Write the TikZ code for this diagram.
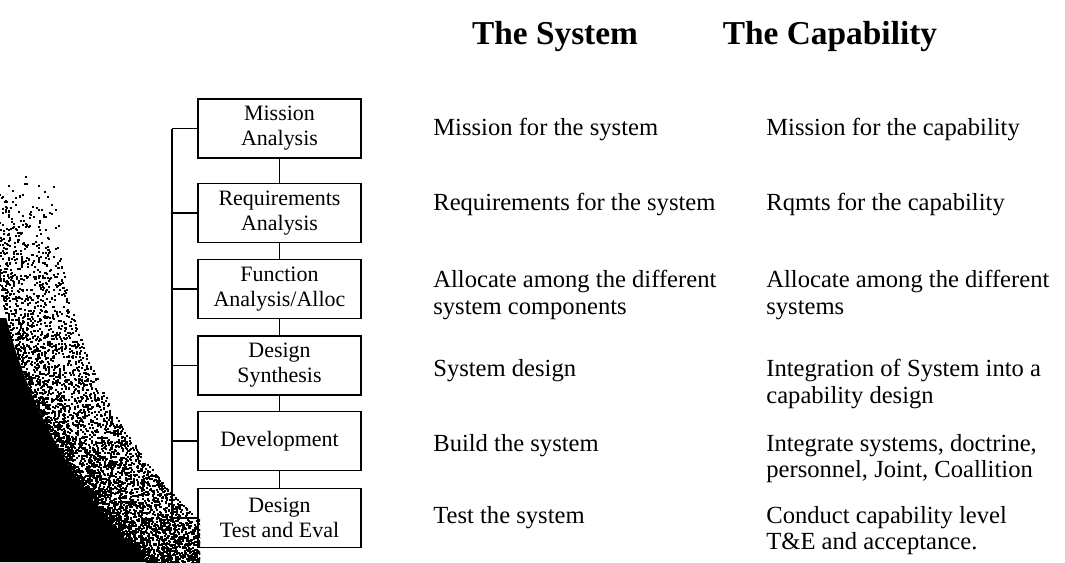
\documentclass[tikz,border=0pt]{standalone}
\usepackage{fontspec}
\setmainfont{Liberation Serif}

\tikzset{
  boite/.style={draw, line width=1.1pt, minimum width=3.26cm, minimum height=1.18cm,
    inner sep=0pt, align=center, font=\fontsize{12.5}{14.2}\selectfont},
  lien/.style={line width=1.1pt},
  texte/.style={anchor=north west, align=left, inner sep=0pt,
    font=\fontsize{14}{15}\selectfont},
  titre/.style={font=\bfseries\fontsize{19}{21}\selectfont}
}

\begin{document}
\begin{tikzpicture}[x=0.02cm, y=-0.02cm]
                  \useasboundingbox (0,0) rectangle (1065,562);

                  % Vague a gauche
                  \fill (0,318) -- (6.3,318) arc[start angle=165.93, end angle=133.8, radius=510] -- (0,562) -- cycle;
                  \begin{scope}
                      \clip (0,170) rectangle (200,562);
                      \pgfmathsetseed{7}
                      \foreach \n in {1,...,5000} {
                              \pgfmathsetmacro\r{510-66*rnd^1.5}
                              \pgfmathsetmacro\a{183-54*sqrt(rnd)}
                              \fill ({501+\r*cos(\a)},{194+\r*sin(\a)}) rectangle ++(2,2);
                          }
                  \end{scope}

                  % Titres
                  \node[titre] (titresys) at (555,37) {The System};
                  \node[titre] (titrecap) at (830,37) {The Capability};

                  % Boites
                  \foreach \i/\y/\txt in {1/128.5/{Mission\\Analysis}, 2/213/{Requirements\\Analysis},
                          3/289/{Function\\Analysis/Alloc}, 4/365.5/{Design\\Synthesis},
                          5/441/{Development}, 6/518/{Design\\Test and Eval}} {
                          \node[boite] (b\i) at (279.5,\y) {\txt};
                      }

                  % Liens entre les boites
                  \foreach \i/\j in {1/2, 2/3, 3/4, 4/5, 5/6} {
                          \draw[lien] (b\i.south) -- (b\j.north);
                      }

                  % Barre verticale
                  \coordinate (bushaut) at (172,128.5);
                  \coordinate (busbas) at (172,518);
                  \draw[lien] (bushaut) -- (busbas);
                  \foreach \i in {1,...,6} {
                          \draw[lien] (b\i.west) -- (b\i.west -| bushaut);
                      }

                  % Colonnes de texte
                  \foreach \k/\y/\sys/\cap in {1/118/{Mission for the system}/{Mission for the capability},
                          2/193/{Requirements for the system}/{Rqmts for the capability},
                          3/270/{Allocate among the different\\system components}/{Allocate among the different\\systems},
                          4/359/{System design}/{Integration of System into a\\capability design},
                          5/434/{Build the system}/{Integrate systems, doctrine,\\personnel, Joint, Coallition},
                          6/506/{Test the system}/{Conduct capability level\\T\&E and acceptance.}} {
                          \node[texte] (sys\k) at (433,\y) {\sys};
                          \node[texte] (cap\k) at (766,\y) {\cap};
                      }
              \end{tikzpicture}
\end{document}
